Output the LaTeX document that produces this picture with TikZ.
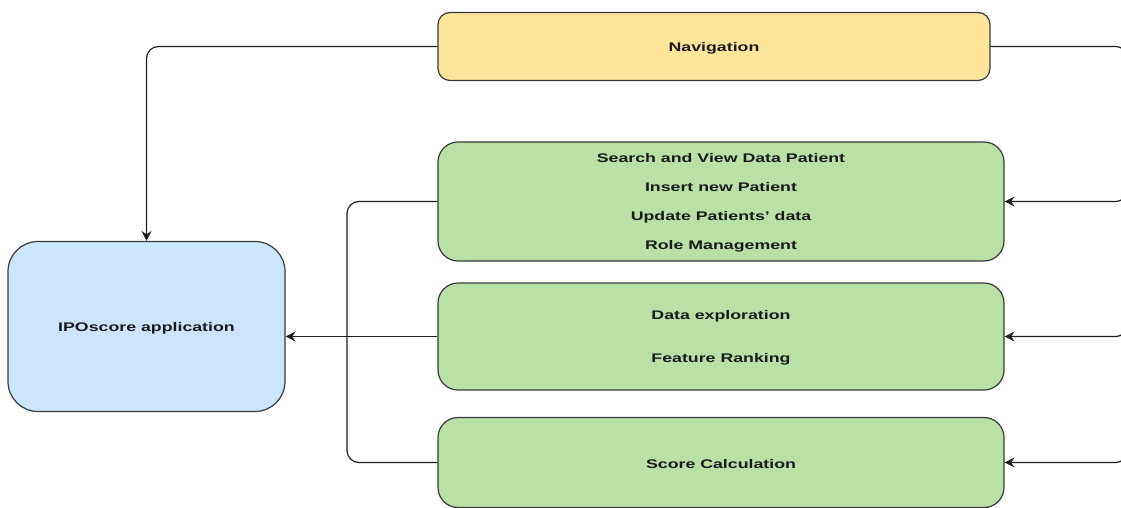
\documentclass[tikz,border=0pt]{standalone}
\usepackage{fontspec}
\setmainfont{Liberation Sans}
\usetikzlibrary{arrows.meta}

% wide, bold box labels, set slightly low without changing their box
\newcommand{\wlbl}[1]{\raisebox{-1.5pt}[\height][\depth]{\scalebox{1.42}[1]{#1}}}

\definecolor{navfill}{HTML}{FFE599}
\definecolor{modfill}{HTML}{B9E0A5}
\definecolor{appfill}{HTML}{CCE5FF}
\definecolor{boxline}{HTML}{36393D}
\definecolor{wire}{HTML}{1E1E1E}
\definecolor{labeltext}{HTML}{1A1A1A}

\begin{document}
\begin{tikzpicture}[x=1pt,y=-1pt,
  box/.style={draw=boxline, line width=1.2pt, inner sep=0pt, align=center,
    text=labeltext, font=\fontsize{12.5}{15}\selectfont\bfseries},
  navbox/.style={box, fill=navfill, rounded corners=12pt,
    minimum width=552pt, minimum height=68pt},
  modbox/.style={box, fill=modfill, rounded corners=20pt, minimum width=566pt},
  appbox/.style={box, fill=appfill, rounded corners=30pt,
    minimum width=277pt, minimum height=170pt},
  wireline/.style={draw=wire, line width=1.2pt},
  arr/.style={wireline, -{Stealth[length=10pt,width=10pt,inset=3.5pt]}}
]
\useasboundingbox (0,0) rectangle (1121,508);
\clip (0,0) rectangle (1121,508);

% boxes
\node[navbox] (nav) at (714,46.5) {\wlbl{Navigation}};
\node[modbox, minimum height=119pt] (g1) at (721,201.5)
  {\wlbl{Search and View Data Patient}\\[14pt]
   \wlbl{Insert new Patient}\\[14pt]
   \wlbl{Update Patients' data}\\[14pt]
   \wlbl{Role Management}};
\node[modbox, minimum height=107pt] (g2) at (721,336.5)
  {\wlbl{Data exploration}\\[28pt]\wlbl{Feature Ranking}};
\node[modbox, minimum height=90pt] (g3) at (721,462.5)
  {\wlbl{Score Calculation}};
\node[appbox] (app) at (146.5,326.5) {\wlbl{IPOscore application}};

% right-hand bus (runs just off the right edge)
\coordinate (rbus) at (1126,46.5);
\draw[wireline, rounded corners=10pt] (nav.east) -- (rbus) -- ++(0,30);
\draw[arr, rounded corners=10pt] (rbus) |- (g1.east);
\draw[arr, rounded corners=10pt] (rbus) |- (g2.east);
\draw[arr, rounded corners=10pt] (rbus) |- (g3.east);

% navigation into the application
\draw[arr, rounded corners=12pt] (nav.west) -| (app.north);

% modules into the application
\draw[wireline, rounded corners=12pt] (g1.west) -- (347,201.5) |- (g3.west);
\draw[arr] (g2.west) -- (g2.west -| app.east);
\end{tikzpicture}
\end{document}
